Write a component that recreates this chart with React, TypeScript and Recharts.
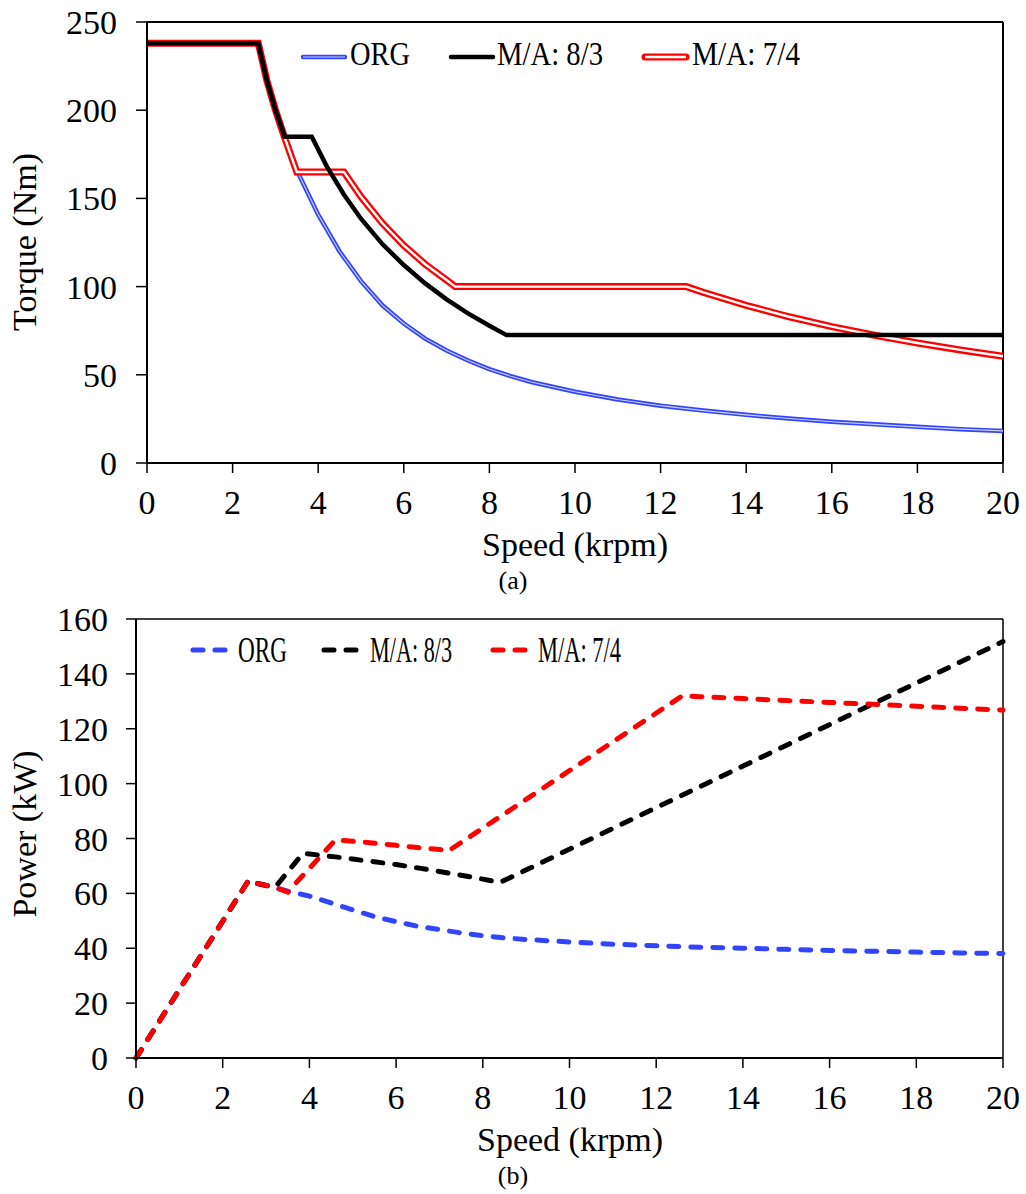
import React from "react";
import { LineChart, Line, XAxis, YAxis, ReferenceLine } from "recharts";

const SERIF = '"Liberation Serif", "Times New Roman", serif';
const BLUE = "#3344ff";
const RED = "#ff0000";

// axis ticks
const speedTicks = [0, 2, 4, 6, 8, 10, 12, 14, 16, 18, 20];
const torqueTicks = [0, 50, 100, 150, 200, 250];
const powerTicks = [0, 20, 40, 60, 80, 100, 120, 140, 160];

// ORG
const orgSpeed = [0, 2.6, 2.8, 3.0, 3.2, 3.5, 4, 4.5, 5, 5.5, 6, 6.5, 7, 7.5, 8, 8.5, 9, 10, 11, 12, 13, 14, 15, 16, 17, 18, 19, 20];
const orgTorque = [238, 238, 216.9, 200.2, 185.6, 165.9, 140.8, 119.9, 103.1, 89.4, 79.1, 70.5, 63.8, 58.1, 53.2, 49.2, 45.8, 40.4, 36.0, 32.5, 29.7, 27.3, 25.2, 23.4, 21.9, 20.5, 19.2, 18.2];
const orgPower = [0, 64.8, 63.6, 62.9, 62.2, 60.8, 59, 56.5, 54, 51.5, 49.7, 48, 46.8, 45.6, 44.6, 43.8, 43.2, 42.3, 41.5, 40.9, 40.4, 40, 39.6, 39.2, 38.9, 38.6, 38.3, 38.1];

// M/A: 8/3
const ma83Speed = [0, 2.6, 2.8, 3.0, 3.22, 3.85, 4.2, 4.6, 5, 5.5, 6, 6.5, 7, 7.5, 8, 8.4, 20];
const ma83Torque = [238, 238, 216.9, 200.2, 185, 185, 168.2, 152.2, 138.5, 124.1, 112.2, 101.8, 92.8, 84.8, 77.8, 72.5, 72.5];
const ma83Power = [0, 64.8, 63.6, 62.9, 62.4, 74.6, 74, 73.3, 72.5, 71.5, 70.5, 69.3, 68, 66.6, 65.2, 64, 151.8];

// M/A: 7/4
const ma74Speed = [0, 2.6, 2.8, 3.0, 3.2, 3.5, 4.6, 5, 5.5, 6, 6.5, 7, 7.2, 12.6, 13, 14, 15, 16, 17, 18, 19, 20];
const ma74Torque = [238, 238, 216.9, 200.2, 185.6, 165, 165, 150.9, 135.9, 123.3, 112.7, 103.7, 100, 100, 96.7, 89.4, 82.9, 77.3, 72.4, 68.0, 64.1, 60.5];
const ma74Power = [0, 64.8, 63.6, 62.9, 62.2, 60.5, 79.5, 79, 78.3, 77.5, 76.7, 76, 75.4, 132, 131.7, 131, 130.3, 129.6, 128.9, 128.2, 127.5, 126.8];

const zip = (xs: number[], ys: number[]) => xs.map((x, i) => ({ speed: x, v: ys[i] }));

const tickStyle = { fill: "#000", fontSize: 34, fontFamily: SERIF };
const axisLine = { stroke: "#000", strokeWidth: 2 };
const tickLine = { stroke: "#000", strokeWidth: 1.5 };
const common = { dot: false, activeDot: false, isAnimationActive: false, type: "linear" as const, dataKey: "v" };

function TorqueChart() {
  return (
    <LineChart width={1026} height={600} margin={{ top: 22, right: 23, left: 0, bottom: 77 }}>
      <XAxis type="number" dataKey="speed" domain={[0, 20]} ticks={speedTicks} interval={0}
        tick={tickStyle} tickSize={10} tickMargin={17} axisLine={axisLine} tickLine={tickLine} height={60} />
      <YAxis type="number" domain={[0, 250]} ticks={torqueTicks} interval={0} width={147}
        tick={tickStyle} tickSize={11} tickMargin={19} axisLine={axisLine} tickLine={tickLine} />
      <ReferenceLine y={250} stroke="#000" strokeWidth={2} />
      <ReferenceLine x={20} stroke="#000" strokeWidth={2} />
      {/* double lines: coloured stroke with a thin white core */}
      <Line {...common} data={zip(orgSpeed, orgTorque)} stroke={BLUE} strokeWidth={4.5} />
      <Line {...common} data={zip(orgSpeed, orgTorque)} stroke="#fff" strokeWidth={1.1} strokeOpacity={0.75} />
      <Line {...common} data={zip(ma74Speed, ma74Torque)} stroke={RED} strokeWidth={7} />
      <Line {...common} data={zip(ma74Speed, ma74Torque)} stroke="#fff" strokeWidth={2.4} />
      <Line {...common} data={zip(ma83Speed, ma83Torque)} stroke="#000" strokeWidth={4.5} />
    </LineChart>
  );
}

const dash = { strokeWidth: 5, strokeDasharray: "10 12", strokeLinecap: "round" as const };

function PowerChart() {
  return (
    <LineChart width={1026} height={594} margin={{ top: 19, right: 23, left: 0, bottom: 76 }}>
      <XAxis type="number" dataKey="speed" domain={[0, 20]} ticks={speedTicks} interval={0}
        tick={tickStyle} tickSize={10} tickMargin={17} axisLine={axisLine} tickLine={tickLine} height={60} />
      <YAxis type="number" domain={[0, 160]} ticks={powerTicks} interval={0} width={136}
        tick={tickStyle} tickSize={10} tickMargin={18} axisLine={axisLine} tickLine={tickLine} />
      <ReferenceLine y={160} stroke="#000" strokeWidth={1.5} />
      <ReferenceLine x={20} stroke="#000" strokeWidth={1.5} />
      <Line {...common} {...dash} data={zip(orgSpeed, orgPower)} stroke={BLUE} />
      <Line {...common} {...dash} data={zip(ma83Speed, ma83Power)} stroke="#000" />
      <Line {...common} {...dash} data={zip(ma74Speed, ma74Power)} stroke={RED} />
    </LineChart>
  );
}

const txt = { fontFamily: SERIF, fill: "#000" };

function Overlay() {
  return (
    <svg width={1026} height={1194} style={{ position: "absolute", left: 0, top: 0, pointerEvents: "none" }}>
      {/* top legend */}
      <line x1={303} x2={345} y1={57} y2={57} stroke={BLUE} strokeWidth={4.5} strokeLinecap="round" />
      <line x1={303} x2={345} y1={57} y2={57} stroke="#fff" strokeWidth={1.1} strokeOpacity={0.75} />
      <text {...txt} x={350} y={65} fontSize={33} textLength={60} lengthAdjust="spacingAndGlyphs">ORG</text>
      <line x1={451} x2={493} y1={57} y2={57} stroke="#000" strokeWidth={4.5} strokeLinecap="round" />
      <text {...txt} x={497} y={65} fontSize={33} textLength={106} lengthAdjust="spacingAndGlyphs">M/A: 8/3</text>
      <line x1={645} x2={686} y1={57} y2={57} stroke={RED} strokeWidth={7} strokeLinecap="round" />
      <line x1={645} x2={686} y1={57} y2={57} stroke="#fff" strokeWidth={2.4} />
      <text {...txt} x={692} y={65} fontSize={33} textLength={108} lengthAdjust="spacingAndGlyphs">M/A: 7/4</text>

      {/* bottom legend */}
      <line x1={193} x2={236} y1={650} y2={650} stroke={BLUE} {...dash} />
      <text {...txt} x={238} y={662} fontSize={35} textLength={49} lengthAdjust="spacingAndGlyphs">ORG</text>
      <line x1={324} x2={367} y1={650} y2={650} stroke="#000" {...dash} />
      <text {...txt} x={370} y={662} fontSize={35} textLength={82} lengthAdjust="spacingAndGlyphs">M/A: 8/3</text>
      <line x1={493} x2={535} y1={650} y2={650} stroke={RED} {...dash} />
      <text {...txt} x={538} y={662} fontSize={35} textLength={83} lengthAdjust="spacingAndGlyphs">M/A: 7/4</text>

      {/* axis titles */}
      <text {...txt} x={36} y={242} fontSize={34} textAnchor="middle" transform="rotate(-90 36 242)">Torque (Nm)</text>
      <text {...txt} x={575} y={556} fontSize={34} textAnchor="middle">Speed (krpm)</text>
      <text {...txt} x={36} y={834} fontSize={34} textAnchor="middle" transform="rotate(-90 36 834)">Power (kW)</text>
      <text {...txt} x={570} y={1151} fontSize={34} textAnchor="middle">Speed (krpm)</text>

      {/* captions */}
      <text {...txt} x={513} y={589} fontSize={26} textAnchor="middle">(a)</text>
      <text {...txt} x={513} y={1184} fontSize={26} textAnchor="middle">(b)</text>
    </svg>
  );
}

export default function App() {
  return (
    <div style={{ position: "absolute", left: 0, top: 0, width: 1026, height: 1194, background: "#fff" }}>
      <div style={{ position: "absolute", left: 0, top: 0 }}>
        <TorqueChart />
      </div>
      <div style={{ position: "absolute", left: 0, top: 600 }}>
        <PowerChart />
      </div>
      <Overlay />
    </div>
  );
}
